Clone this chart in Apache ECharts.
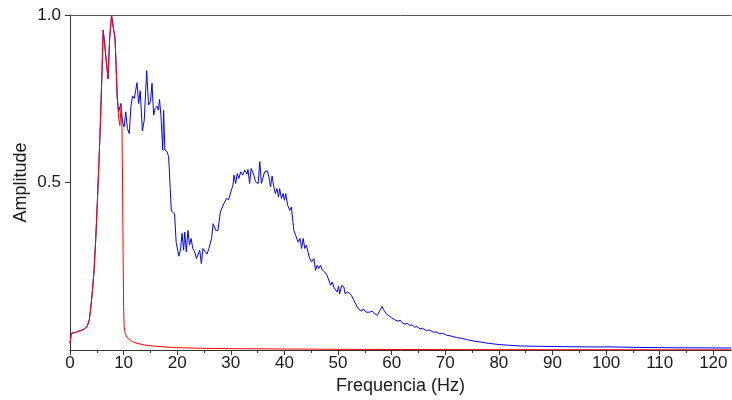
<!DOCTYPE html>
<html>
<head>
<meta charset="utf-8">
<script src="https://cdn.jsdelivr.net/npm/echarts@6/dist/echarts.min.js"></script>
<style>html,body{margin:0;padding:0;background:#fff}#c{width:732px;height:400px}</style>
</head>
<body>
<div id="c"></div>
<script>
// Red series (reference spectrum)
const redFreq = [0,0.25,0.5,1.0,1.4,2.0,2.6,3.2,3.6,3.9,4.2,4.5,4.8,5.1,5.4,5.7,6.0,6.2,6.6,7.1,7.4,7.75,8.1,8.4,8.6,8.8,9.1,9.3,9.55,9.7,9.8,9.9,10.0,10.1,10.3,10.6,11.0,11.7,12.5,14.2,16,19.8,25,30,40,50,60,80,100,123.3];
const redAmp  = [0.02,0.05,0.053,0.052,0.055,0.058,0.062,0.07,0.09,0.13,0.18,0.24,0.33,0.44,0.56,0.69,0.85,0.955,0.89,0.81,0.93,1.0,0.96,0.93,0.85,0.756,0.69,0.67,0.73,0.66,0.5,0.3,0.13,0.07,0.05,0.038,0.032,0.025,0.02,0.014,0.011,0.007,0.005,0.004,0.003,0.002,0.0015,0.001,0.0008,0.0005];

// Blue series (response spectrum)
const blueFreq = [0,0.25,0.5,1.0,1.4,2.0,2.6,3.2,3.6,3.9,4.2,4.5,4.8,5.1,5.4,5.7,6.0,6.2,6.6,7.1,7.4,7.75,8.1,8.4,8.6,8.8,9.06,9.5,9.8,10.1,10.4,10.7,11.05,11.36,11.67,12.0,12.3,12.5,12.8,13.1,13.5,13.85,14.3,14.65,15.0,15.3,15.6,15.9,16.2,16.5,16.7,16.96,17.3,17.46,17.7,18.1,18.4,18.7,18.9,19.1,19.5,19.8,20.3,20.6,20.9,21.2,21.4,21.7,22.0,22.3,22.6,22.9,23.25,23.6,23.9,24.2,24.5,24.8,25.1,25.55,25.9,26.4,26.7,27.2,27.6,28.05,28.4,28.7,29.2,29.6,30.0,30.4,30.6,30.9,31.2,31.5,31.85,32.2,32.6,33.0,33.2,33.5,33.8,34.3,34.6,35.1,35.4,35.7,36.3,36.8,37.1,37.4,37.7,38.0,38.3,38.6,38.9,39.1,39.45,39.75,40.0,40.25,40.6,41.0,41.3,41.75,42.1,42.55,42.9,43.2,43.5,43.8,44.1,44.6,45.05,45.5,45.8,46.1,46.4,46.7,47.1,47.5,47.96,48.3,48.6,48.9,49.2,49.5,49.8,50.1,50.3,50.7,51.1,51.3,51.7,52.1,52.5,53.1,53.75,54.4,54.7,55.2,55.5,55.9,56.4,56.9,57.3,57.8,58.2,58.6,58.9,59.4,60.0,60.3,60.6,60.9,61.2,61.6,61.9,62.2,62.5,62.9,63.4,63.8,64.3,64.7,65.3,65.7,66.5,67.0,67.8,68.3,69.0,69.5,70.3,71.0,72.1,73.0,74.0,75.2,76.5,78.0,80.2,82.0,84.0,87.7,92.0,98.9,100.0,105.0,110.0,115.0,123.3];
const blueAmp  = [0.02,0.05,0.053,0.052,0.055,0.058,0.062,0.07,0.09,0.13,0.18,0.24,0.33,0.44,0.56,0.69,0.85,0.955,0.89,0.81,0.93,1.0,0.96,0.93,0.85,0.756,0.711,0.736,0.68,0.666,0.711,0.661,0.646,0.726,0.758,0.751,0.753,0.798,0.736,0.774,0.654,0.686,0.834,0.731,0.741,0.796,0.701,0.721,0.728,0.716,0.748,0.701,0.597,0.716,0.597,0.592,0.577,0.482,0.415,0.412,0.407,0.322,0.28,0.298,0.348,0.298,0.352,0.293,0.357,0.313,0.333,0.303,0.293,0.273,0.268,0.298,0.258,0.303,0.306,0.286,0.303,0.333,0.377,0.357,0.357,0.412,0.417,0.437,0.452,0.449,0.472,0.492,0.522,0.497,0.527,0.512,0.532,0.522,0.537,0.525,0.539,0.497,0.542,0.522,0.502,0.497,0.562,0.497,0.532,0.535,0.517,0.487,0.519,0.489,0.467,0.482,0.457,0.482,0.452,0.467,0.447,0.467,0.432,0.417,0.427,0.357,0.342,0.322,0.333,0.303,0.333,0.303,0.313,0.278,0.263,0.273,0.238,0.253,0.243,0.253,0.238,0.233,0.223,0.228,0.193,0.203,0.188,0.193,0.173,0.19,0.168,0.193,0.188,0.168,0.173,0.17,0.163,0.143,0.123,0.116,0.123,0.113,0.118,0.113,0.116,0.108,0.103,0.118,0.13,0.118,0.11,0.103,0.096,0.1,0.09,0.094,0.086,0.089,0.082,0.085,0.077,0.08,0.073,0.075,0.068,0.07,0.063,0.065,0.058,0.06,0.053,0.054,0.048,0.05,0.044,0.042,0.037,0.035,0.031,0.027,0.024,0.02,0.016,0.014,0.012,0.011,0.010,0.009,0.0095,0.008,0.007,0.0065,0.006];

const majorTicks = [0,10,20,30,40,50,60,70,80,90,100,110,120];
const minorTicks = [5,15,25,35,45,55,65,75,85,95,105,115];
const yTicks = [0.5, 1.0];
const xMax = 123.3;

const zip = (a, b) => a.map((v, i) => [v, b[i]]);
const font = '"Liberation Sans", Arial, sans-serif';
const chart = echarts.init(document.getElementById('c'), null, {renderer: 'canvas'});
chart.setOption({
  animation: false,
  backgroundColor: '#fff',
  grid: {left: 70, right: 1, top: 15, bottom: 50, containLabel: false},
  xAxis: [
    {
      type: 'value', min: 0, max: xMax, position: 'bottom',
      name: 'Frequencia (Hz)', nameLocation: 'middle', nameGap: 26,
      nameTextStyle: {color: '#1a1a1a', fontSize: 18, fontFamily: font},
      axisLine: {show: true, onZero: false, lineStyle: {color: '#333', width: 1}},
      axisTick: {show: true, length: 5, customValues: majorTicks, lineStyle: {color: '#333'}},
      axisLabel: {customValues: majorTicks, color: '#1a1a1a', fontSize: 17, fontFamily: font, margin: 5},
      splitLine: {show: false}
    },
    {
      type: 'value', min: 0, max: xMax, position: 'top',
      axisLine: {show: true, onZero: false, lineStyle: {color: '#555', width: 1}},
      axisTick: {show: false}, axisLabel: {show: false}, splitLine: {show: false}
    },
    {
      type: 'value', min: 0, max: xMax, position: 'bottom', offset: 0,
      axisLine: {show: false, onZero: false},
      axisTick: {show: true, length: 3, customValues: minorTicks, lineStyle: {color: '#333'}},
      axisLabel: {show: false}, splitLine: {show: false}
    }
  ],
  yAxis: {
    type: 'value', min: 0, max: 1,
    name: 'Amplitude', nameLocation: 'middle', nameGap: 40, nameMoveOverlap: false,
    nameTextStyle: {color: '#1a1a1a', fontSize: 18, fontFamily: font},
    axisLine: {show: true, onZero: false, lineStyle: {color: '#333', width: 1}},
    axisTick: {show: true, length: 5, customValues: yTicks, lineStyle: {color: '#333'}},
    axisLabel: {customValues: yTicks, formatter: v => v.toFixed(1), color: '#1a1a1a', fontSize: 17, fontFamily: font, margin: 9},
    splitLine: {show: false}
  },
  series: [
    {type: 'line', xAxisIndex: 0, data: zip(blueFreq, blueAmp), showSymbol: false, symbol: 'none',
     lineStyle: {color: '#0000ff', width: 1}, itemStyle: {color: '#0000ff'}, z: 2},
    {type: 'line', xAxisIndex: 0, data: zip(redFreq, redAmp), showSymbol: false, symbol: 'none',
     lineStyle: {color: '#ff0000', width: 1}, itemStyle: {color: '#ff0000'}, z: 3}
  ]
});
</script>
</body>
</html>
